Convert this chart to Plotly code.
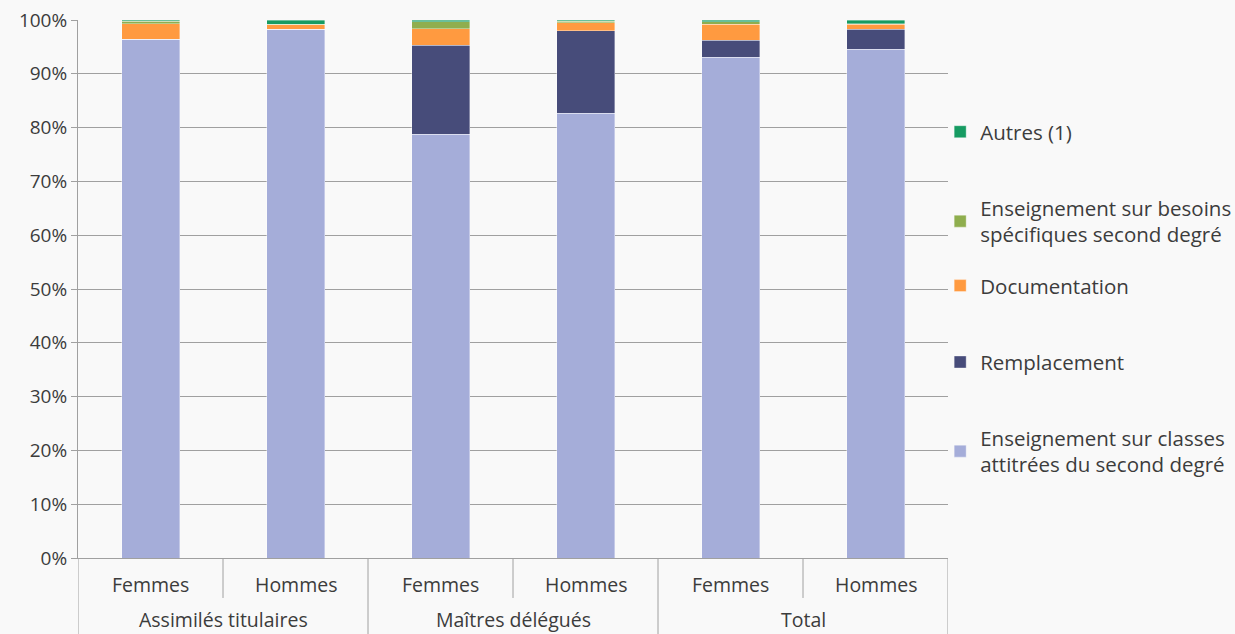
import plotly.graph_objects as go

groups = ["Assimilés titulaires", "Assimilés titulaires", "Maîtres délégués",
          "Maîtres délégués", "Total", "Total"]
sexes = ["Femmes", "Hommes", "Femmes", "Hommes", "Femmes", "Hommes"]

classes_attitrees = [96.4, 98.3, 78.8, 82.7, 93.1, 94.6]
remplacement = [0.0, 0.0, 16.5, 15.3, 3.1, 3.7]
documentation = [2.9, 0.8, 3.1, 1.5, 3.0, 0.9]
besoins_specifiques = [0.5, 0.1, 1.3, 0.3, 0.5, 0.1]
autres = [0.2, 0.8, 0.3, 0.2, 0.3, 0.7]

series = [
    ("Enseignement sur classes<br>attitrées du second degré", classes_attitrees, "#A5ADD9"),
    ("Remplacement", remplacement, "#474C7A"),
    ("Documentation", documentation, "#FF9A40"),
    ("Enseignement sur besoins<br>spécifiques second degré", besoins_specifiques, "#8FAE4E"),
    ("Autres (1)", autres, "#169B62"),
]
# vertical centre of each legend entry, in plot-area fraction
legend_y = [0.198, 0.364, 0.506, 0.6255, 0.792]

keys = [f"{g} | {s}" for g, s in zip(groups, sexes)]

font_family = "'Open Sans', Inter, sans-serif"
text_color = "#3C3C3C"
grid_color = "#A0A0A0"

fig = go.Figure()
legends = {}
for i, (name, vals, color) in enumerate(series):
    lg = "legend" if i == 0 else f"legend{i + 1}"
    fig.add_trace(go.Bar(
        x=keys, y=vals, name=name, legend=lg,
        marker=dict(color=color, line=dict(color="rgba(255,255,255,0.6)", width=0.6)),
        width=0.4,
    ))
    legends[lg] = dict(
        x=0.991, y=legend_y[i], xanchor="left", yanchor="middle",
        font=dict(family=font_family, size=20.5, color=text_color),
        bgcolor="rgba(0,0,0,0)", itemwidth=30,
    )

# category labels under the axis: sexes on the first row, groups on the second
label_font = dict(family=font_family, size=19.5, color=text_color)
annotations = []
for idx, s in enumerate(sexes):
    annotations.append(dict(x=idx, y=-0.049, xref="x", yref="paper", text=s,
                            showarrow=False, yanchor="middle", font=label_font))
group_names = list(dict.fromkeys(groups))
for gname in group_names:
    members = [i for i, g in enumerate(groups) if g == gname]
    centre = sum(members) / len(members)
    annotations.append(dict(x=centre, y=-0.115, xref="x", yref="paper", text=gname,
                            showarrow=False, yanchor="middle", font=label_font))

# separators between sub-categories (short) and between groups (full height)
shapes = []
for idx in range(len(keys) + 1):
    pos = idx - 0.5
    at_group_edge = idx == 0 or idx == len(keys) or groups[idx] != groups[idx - 1]
    shapes.append(dict(type="line", xref="x", yref="paper", x0=pos, x1=pos,
                       y0=0, y1=-0.1413 if at_group_edge else -0.0743,
                       line=dict(color=grid_color, width=1)))

fig.update_layout(
    barmode="stack",
    width=1235, height=634,
    margin=dict(l=78, r=287, t=20, b=76, autoexpand=False),
    paper_bgcolor="#F9F9F9", plot_bgcolor="#F9F9F9",
    font=dict(family=font_family, size=19, color=text_color),
    annotations=annotations, shapes=shapes,
    showlegend=True,
    **legends,
)
fig.update_yaxes(
    range=[0, 100], tickvals=list(range(0, 101, 10)),
    ticktext=[f"{v}%" for v in range(0, 101, 10)],
    showgrid=True, gridcolor=grid_color, gridwidth=1,
    showline=True, linecolor=grid_color, linewidth=1,
    ticks="outside", ticklen=6, tickcolor=grid_color,
    zeroline=False, tickfont=dict(size=19), automargin=False,
)
fig.update_xaxes(
    range=[-0.5, len(keys) - 0.5],
    showline=True, linecolor=grid_color, linewidth=1,
    showticklabels=False, ticks="", automargin=False,
)

fig.write_html("out.html")
